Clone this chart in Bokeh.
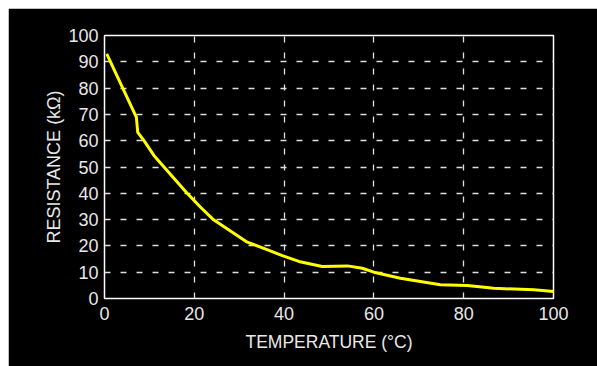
from bokeh.plotting import figure
from bokeh.embed import file_html
from bokeh.resources import INLINE
from bokeh.models import FixedTicker, Range1d

temperature = [0.5, 6.9, 7.1, 7.4, 8.8, 11.0, 18.4, 21.4, 24.3, 31.8, 36.2, 39.6,
               43.3, 48.5, 54.1, 57.4, 60.0, 65.9, 74.8, 80.8, 86.7, 95.6, 100.0]
resistance = [93.0, 69.6, 69.0, 63.2, 60.0, 54.4, 40.0, 34.7, 29.9, 21.4, 18.6, 16.3,
              14.1, 12.2, 12.4, 11.5, 10.0, 7.7, 5.2, 4.9, 3.9, 3.3, 2.7]
x_ticks = [0, 20, 40, 60, 80, 100]
y_ticks = [0, 10, 20, 30, 40, 50, 60, 70, 80, 90, 100]

FONT = "Liberation Sans"
TEXT = "#e8e8e8"

p = figure(width=597, height=366, output_backend="svg", toolbar_location=None,
           x_range=Range1d(0, 100), y_range=Range1d(0, 100),
           min_border_left=96, min_border_top=27, min_border_right=52, min_border_bottom=76)
p.styles = {"margin-left": "8px", "margin-top": "8px"}
p.background_fill_color = "black"
p.border_fill_color = "black"
p.outline_line_color = "white"
p.outline_line_width = 1.5

p.line(temperature, resistance, line_color="#ffff00", line_width=3)

for ax in (p.xaxis[0], p.yaxis[0]):
    ax.axis_line_color = None
    ax.major_tick_line_color = None
    ax.minor_tick_line_color = None
    ax.major_tick_out = 0
    ax.major_tick_in = 0
    ax.major_label_text_color = TEXT
    ax.major_label_text_font = FONT
    ax.major_label_text_font_size = "18px"
    ax.axis_label_text_color = TEXT
    ax.axis_label_text_font = FONT
    ax.axis_label_text_font_style = "normal"

p.xaxis.ticker = FixedTicker(ticks=x_ticks)
p.yaxis.ticker = FixedTicker(ticks=y_ticks)
p.xaxis.axis_label = "TEMPERATURE (°C)"
p.yaxis.axis_label = "RESISTANCE (kΩ)"
p.xaxis.axis_label_text_font_size = "17.5px"
p.yaxis.axis_label_text_font_size = "18px"
p.xaxis.major_label_standoff = 8
p.yaxis.major_label_standoff = 6
p.xaxis.axis_label_standoff = 9
p.yaxis.axis_label_standoff = 1

p.xgrid.ticker = FixedTicker(ticks=[20, 40, 60, 80])
p.ygrid.ticker = FixedTicker(ticks=[10, 20, 30, 40, 50, 60, 70, 80, 90])
for g in (p.xgrid[0], p.ygrid[0]):
    g.grid_line_color = "#e0e0e0"
    g.grid_line_width = 1.3
    g.grid_line_dash = "6 10"

open("out.html", "w").write(file_html(p, INLINE))
